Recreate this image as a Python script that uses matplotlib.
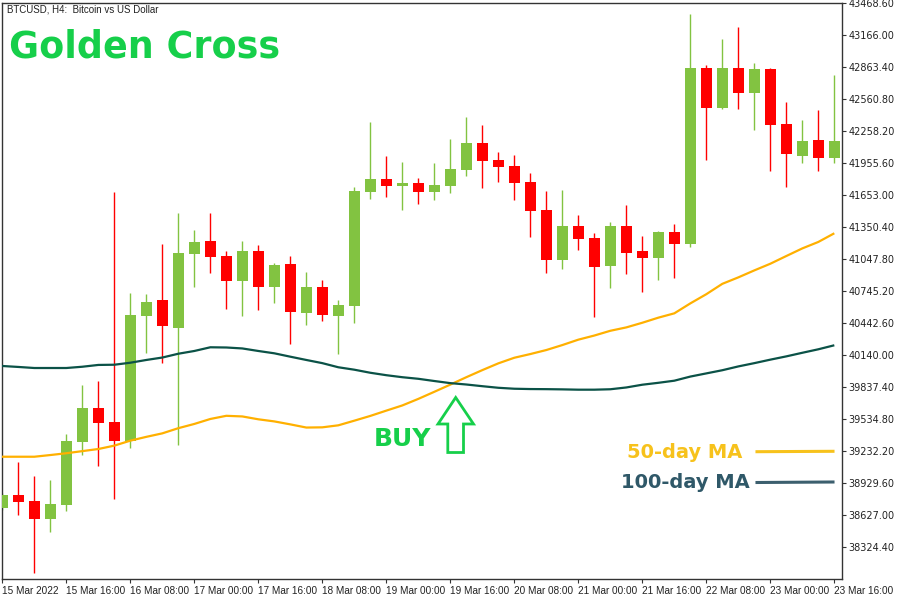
import matplotlib
matplotlib.use("Agg")
import matplotlib.pyplot as plt
import numpy as np
from matplotlib.patches import Polygon
from matplotlib.lines import Line2D

# ---- data (BTCUSD H4, 15 Mar 2022 00:00 .. 23 Mar 16:00) ----
opens = [38696, 38816, 38759, 38589, 38722, 39317, 39639, 39507, 39327, 40509,
         40660, 40395, 41095, 41218, 41076, 40840, 41124, 40783, 41001, 40540,
         40783, 40509, 40606, 41681, 41804, 41738, 41767, 41681, 41738, 41889,
         42145, 41984, 41927, 41776, 41512, 41038, 41360, 41246, 40985, 41360,
         41124, 41060, 41303, 41193, 42854, 42479, 42854, 42620, 42845, 42324,
         42025, 42173, 42006]
highs = [38835, 39128, 38996, 38958, 39393, 39856, 39894, 41681, 40726, 40717,
         41190, 41483, 41322, 41483, 41124, 41218, 41180, 41010, 41076, 40925,
         40849, 40660, 41729, 42343, 42022, 41965, 41814, 41956, 42183, 42391,
         42315, 42060, 42031, 41861, 41691, 41700, 41464, 41294, 41398, 41559,
         41265, 41313, 41379, 43365, 42882, 43128, 43242, 42901, 42854, 42533,
         42362, 42457, 42788]
lows = [38674, 38627, 38081, 38469, 38665, 39194, 39090, 38778, 39261, 40159,
        40064, 39289, 40783, 40916, 40575, 40509, 40566, 40632, 40244, 40424,
        40464, 40150, 40446, 41615, 41634, 41511, 41568, 41606, 41672, 41833,
        41719, 41776, 41606, 41256, 40916, 40953, 41133, 40499, 40776, 40909,
        40739, 40852, 40871, 41164, 41987, 42469, 42469, 42271, 41883, 41732,
        41959, 41883, 41959]
closes = [38816, 38753, 38589, 38731, 39327, 39639, 39497, 39327, 40518, 40641,
          40414, 41105, 41209, 41067, 40840, 41124, 40783, 40991, 40547, 40783,
          40518, 40613, 41691, 41804, 41738, 41767, 41681, 41748, 41899, 42145,
          41975, 41918, 41767, 41502, 41038, 41360, 41237, 40975, 41360, 41107,
          41060, 41303, 41193, 42854, 42479, 42854, 42620, 42845, 42318, 42044,
          42164, 42006, 42164]
ma50 = [39178, 39178, 39178, 39194, 39211, 39231, 39251, 39283, 39330, 39366,
        39399, 39448, 39488, 39535, 39565, 39559, 39532, 39512, 39484, 39454,
        39456, 39475, 39519, 39564, 39614, 39663, 39725, 39792, 39860, 39930,
        39997, 40061, 40114, 40149, 40187, 40234, 40285, 40324, 40369, 40401,
        40445, 40493, 40534, 40628, 40715, 40813, 40874, 40940, 41003, 41076,
        41148, 41209, 41291]
ma100 = [40036, 40027, 40017, 40017, 40017, 40029, 40046, 40048, 40067, 40093,
         40116, 40152, 40178, 40213, 40211, 40202, 40178, 40156, 40124, 40093,
         40063, 40024, 40001, 39972, 39949, 39930, 39915, 39894, 39874, 39861,
         39845, 39830, 39821, 39818, 39817, 39815, 39812, 39812, 39816, 39833,
         39859, 39877, 39897, 39936, 39966, 39996, 40032, 40063, 40096, 40127,
         40161, 40194, 40232]
ytick_vals = [43468.60, 43166.00, 42863.40, 42560.80, 42258.20, 41955.60,
              41653.00, 41350.40, 41047.80, 40745.20, 40442.60, 40140.00,
              39837.40, 39534.80, 39232.20, 38929.60, 38627.00, 38324.40]
xtick_labels = ['15 Mar 2022', '15 Mar 16:00', '16 Mar 08:00', '17 Mar 00:00',
                '17 Mar 16:00', '18 Mar 08:00', '19 Mar 00:00', '19 Mar 16:00',
                '20 Mar 08:00', '21 Mar 00:00', '21 Mar 16:00', '22 Mar 08:00',
                '23 Mar 00:00', '23 Mar 16:00']

GREEN = '#82C341'
RED = '#FF0000'
MA50_C = '#FFB000'
MA100_C = '#0B5247'
TITLE_G = '#16CF4A'

W, H = 900, 600
fig = plt.figure(figsize=(9, 6), dpi=100)
ax = fig.add_axes([2 / W, 21 / H, 840 / W, 576 / H])

x = np.arange(len(opens))
o = np.array(opens, float); c = np.array(closes, float)
hi = np.array(highs, float); lo = np.array(lows, float)
up = c >= o
cols = [GREEN if u else RED for u in up]

ax.vlines(x, lo, hi, colors=cols, linewidth=1.0, zorder=2)
bottoms = np.minimum(o, c)
heights = np.maximum(np.abs(c - o), 8)
ax.bar(x, heights, bottom=bottoms, width=0.69, color=cols, linewidth=0, zorder=3)

xm = np.concatenate([[-0.05], x])
ax.plot(xm, [ma50[0]] + ma50, color=MA50_C, linewidth=1.6, zorder=4,
        solid_capstyle='butt')
ax.plot(xm, [ma100[0]] + ma100, color=MA100_C, linewidth=1.6, zorder=4,
        solid_capstyle='butt')

ax.set_xlim(-0.02, 52.48)
ax.set_ylim(38021.8, 43468.6)

ax.yaxis.tick_right()
ax.set_yticks(ytick_vals)
ax.set_yticklabels([f'{v:.2f}' for v in ytick_vals])
ax.set_xticks(np.arange(0, 53, 4))
ax.set_xticklabels(xtick_labels, ha='left')
ax.tick_params(axis='y', length=3, width=0.8, pad=1.5, labelsize=7,
               labelcolor='#222222', color='#333333')
ax.tick_params(axis='x', length=3, width=0.8, pad=2, labelsize=7,
               labelcolor='#222222', color='#333333')
for lbl in ax.get_xticklabels():
    lbl.set_fontfamily('Liberation Sans')
    lbl.set_fontsize(7.2)
for s in ax.spines.values():
    s.set_color('#333333')
    s.set_linewidth(1.0)

def fx(px):
    return px / W

def fy(py):
    return 1 - py / H

fig.text(fx(7), fy(13), 'BTCUSD, H4:  Bitcoin vs US Dollar', fontsize=7,
         family='Liberation Sans', color='#222222', va='baseline', ha='left')
fig.text(fx(9), fy(58), 'Golden Cross', fontsize=26.3, fontweight='bold',
         color=TITLE_G, va='baseline', ha='left')

fig.text(fx(374), fy(446.5), 'BUY', fontsize=18, fontweight='bold',
         color=TITLE_G, va='baseline', ha='left')
arrow_px = [(455.7, 397.5), (473.5, 424), (463.5, 424), (463.5, 452.5),
            (447.8, 452.5), (447.8, 424), (438, 424)]
poly = Polygon([(fx(a), fy(b)) for a, b in arrow_px], closed=True,
               transform=fig.transFigure, fill=False, edgecolor=TITLE_G,
               linewidth=2.0, joinstyle='miter')
fig.add_artist(poly)

fig.text(fx(742), fy(458.3), '50-day MA', fontsize=14, fontweight='bold',
         color='#F7C21C', va='baseline', ha='right')
fig.text(fx(750), fy(488.3), '100-day MA', fontsize=14, fontweight='bold',
         color='#2F5868', va='baseline', ha='right')
fig.add_artist(Line2D([fx(757), fx(833)], [fy(451.7), fy(451.3)],
                      transform=fig.transFigure, color='#F7C21C', linewidth=2.2))
fig.add_artist(Line2D([fx(757), fx(833)], [fy(482.5), fy(482.0)],
                      transform=fig.transFigure, color='#3C5F6E', linewidth=2.2))

fig.savefig('out.png', dpi=100, facecolor='white')
